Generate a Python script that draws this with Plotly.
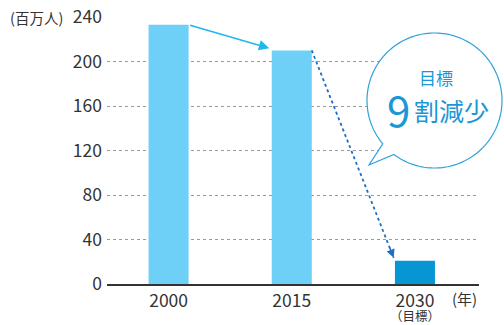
import numpy as np
import plotly.graph_objects as go

# Data
years = ["2000", "2015", "2030"]
target_note = "（目標）"
population = [233, 210, 21]          # 百万人
bar_colors = ["#6fd0f7", "#6fd0f7", "#0795d4"]
y_ticks = [0, 40, 80, 120, 160, 200, 240]

FONT = "Noto Sans CJK JP"
TEXT = "#333333"
BLUE_TXT = "#1b97d6"

W, H = 504, 325
ML, MR, MT, MB = 107, 25, 17, 41
PW, PH = W - ML - MR, H - MT - MB
BAR_W = 0.325

fig = go.Figure()
fig.add_trace(go.Bar(
    x=list(range(len(years))), y=population, width=BAR_W,
    marker=dict(color=bar_colors, line=dict(width=0)),
    hoverinfo="skip",
))

# 2000 -> 2015 solid arrow
fig.add_annotation(
    x=1 - BAR_W / 2 - 0.02, y=population[1] + 2,
    ax=0 + BAR_W / 2, ay=population[0],
    xref="x", yref="y", axref="x", ayref="y",
    showarrow=True, arrowhead=2, arrowsize=1.3, arrowwidth=1.6,
    arrowcolor="#20b7ec", text="",
)

# 2015 -> 2030 dotted arrow
x0d, y0d = 1 + BAR_W / 2, population[1]
x1d, y1d = 2 - BAR_W / 2 - 0.01, population[2] + 2.5
fig.add_shape(type="line", xref="x", yref="y",
              x0=x0d, y0=y0d, x1=x1d, y1=y1d,
              line=dict(color="#1a6fc4", width=1.8, dash="dot"))
t = 0.94
fig.add_annotation(
    x=x1d, y=y1d, ax=x0d + t * (x1d - x0d), ay=y0d + t * (y1d - y0d),
    xref="x", yref="y", axref="x", ayref="y",
    showarrow=True, arrowhead=2, arrowsize=1.2, arrowwidth=1.4,
    arrowcolor="#1a6fc4", text="",
)

# Speech bubble (circle + tail) built in pixel space, placed in paper space
def to_paper(px, py):
    return (px - ML) / PW, (H - MB - py) / PH

cx, cy, r = 434.5, 100.5, 67.5
a_start, a_end = np.deg2rad(127), np.deg2rad(140 - 360)
angles = np.linspace(a_start, a_end, 160)
pts = [(cx + r * np.cos(a), cy + r * np.sin(a)) for a in angles]
pts.append((369, 165))
path = ""
for i, (px, py) in enumerate(pts):
    u, v = to_paper(px, py)
    path += ("M" if i == 0 else "L") + f"{u:.5f},{v:.5f} "
path += "Z"
fig.add_shape(type="path", xref="paper", yref="paper", path=path,
              fillcolor="white", line=dict(color="#2ea2dc", width=1.2),
              layer="above")


def label(px, py, text, size, color, xanchor="center"):
    u, v = to_paper(px, py)
    fig.add_annotation(x=u, y=v, xref="paper", yref="paper", showarrow=False,
                       xanchor=xanchor, yanchor="middle", text=text,
                       font=dict(family=FONT, size=size, color=color))


label(436, 77, "目標", 17, BLUE_TXT)
label(398, 108, "9", 42, BLUE_TXT)
label(451, 110, "割減少", 25, BLUE_TXT)

# Axis unit labels and target note
label(8, 17, "(百万人)", 14.5, TEXT, xanchor="left")
label(464, 298, "(年)", 15, TEXT)
label(415, 315, target_note, 12.5, TEXT)

fig.update_layout(
    width=W, height=H,
    margin=dict(l=ML, r=MR, t=MT, b=MB, autoexpand=False),
    paper_bgcolor="white", plot_bgcolor="white",
    showlegend=False,
    font=dict(family=FONT, size=17, color=TEXT),
    xaxis=dict(
        range=[-0.5, 2.52], tickmode="array",
        tickvals=list(range(len(years))), ticktext=years,
        showgrid=False, zeroline=False, showline=True,
        linecolor="#333333", linewidth=1.5, ticks="", automargin=False,
        tickfont=dict(size=17.5, color=TEXT),
    ),
    yaxis=dict(
        range=[0, 240], tickmode="array", tickvals=y_ticks,
        showgrid=True, gridcolor="#9a9a9a", gridwidth=1, griddash="dot",
        zeroline=False, showline=False, ticks="", automargin=False,
        ticklabelstandoff=4,
        tickfont=dict(size=17.5, color=TEXT),
    ),
)

fig.write_html("out.html")
